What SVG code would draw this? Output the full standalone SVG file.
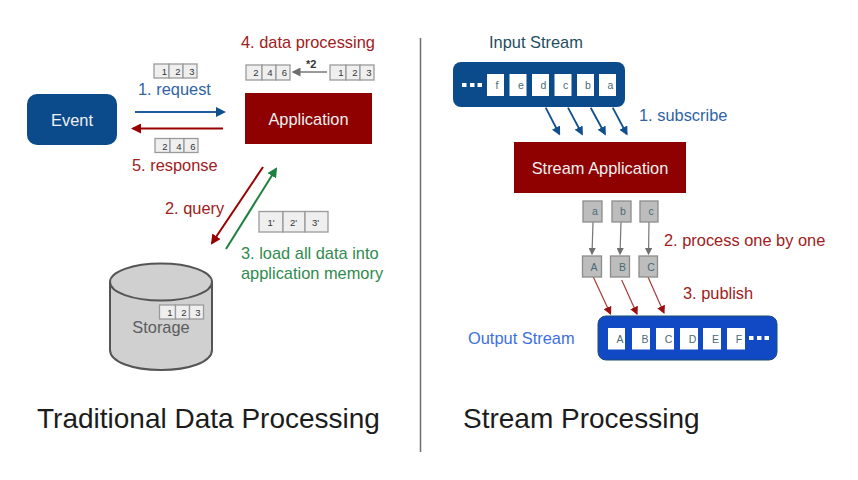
<svg xmlns="http://www.w3.org/2000/svg" width="858" height="480" viewBox="0 0 858 480">
<style>
text{font-family:"Liberation Sans",Arial,sans-serif}
.lb{font-size:16.4px}
.red{fill:#a02020}.blue{fill:#2f64a4}.green{fill:#2f8a4e}
.w{fill:#f0f0f0;font-size:16.4px;text-anchor:middle}
.t{font-size:28px;fill:#1c1c1c}
.c{fill:#efefef;stroke:#9a9a9a;stroke-width:1.3}
.d{font-size:9.5px;fill:#333;text-anchor:middle}
.s{fill:#fff}
.e{font-size:10.5px;fill:#4a6a78;text-anchor:middle}
.g{fill:#bdbdbd;stroke:#8c8c8c;stroke-width:1.3}
.ln{fill:none}
.dot{fill:#fff}
</style>
<defs>
<marker id="mb" markerWidth="5" markerHeight="5" refX="4" refY="2.5" orient="auto" markerUnits="strokeWidth"><path d="M0 0L5 2.500L0 5z" fill="#0f4f8f"/></marker>
<marker id="mr" markerWidth="5" markerHeight="5" refX="4" refY="2.5" orient="auto" markerUnits="strokeWidth"><path d="M0 0L5 2.500L0 5z" fill="#990000"/></marker>
<marker id="mg" markerWidth="5" markerHeight="5" refX="4" refY="2.5" orient="auto" markerUnits="strokeWidth"><path d="M0 0L5 2.500L0 5z" fill="#1f8040"/></marker>
<marker id="mk" markerWidth="6" markerHeight="6" refX="5" refY="3" orient="auto" markerUnits="strokeWidth"><path d="M0 0L6 3L0 6z" fill="#6f6f6f"/></marker>
<marker id="mh" markerWidth="7" markerHeight="7" refX="6" refY="3.5" orient="auto" markerUnits="strokeWidth"><path d="M0 0L7 3.500L0 7z" fill="#9a1010"/></marker>
</defs>
<rect width="858" height="480" fill="#fff"/>

<g id="connectors" class="ln">
<path d="M135 112H224" stroke="#1f5d9e" stroke-width="2" marker-end="url(#mb)"/>
<path d="M223 128.500H133" stroke="#990000" stroke-width="2" marker-end="url(#mr)"/>
<path d="M263 167L212 243" stroke="#990000" stroke-width="2" marker-end="url(#mr)"/>
<path d="M226 249L276 169" stroke="#1f8040" stroke-width="2" marker-end="url(#mg)"/>
<path d="M327 72H293" stroke="#777" stroke-width="1.500" marker-end="url(#mk)"/>
<g stroke="#0f4f8f" stroke-width="1.800" marker-end="url(#mb)">
<path d="M545.700 107.700L559.300 134"/><path d="M568 107.700L582 134"/><path d="M590.700 107.700L605 134"/><path d="M612.700 107.700L626.700 134"/>
</g>
<g stroke="#777" stroke-width="1.200" marker-end="url(#mk)">
<path d="M593 222L592 254"/><path d="M621 222L620 254"/><path d="M649 222L648.500 254"/>
</g>
<g stroke="#a83a3a" stroke-width="1.200" marker-end="url(#mh)">
<path d="M593.300 277L610.500 314"/><path d="M621.700 280L637 314"/><path d="M648 277L664 313"/>
</g>
</g>

<g id="event"><rect x="27" y="94" width="90" height="51" rx="10" fill="#0b4a8b"/><text class="w" x="72" y="126">Event</text></g>
<g id="application"><rect x="245" y="93" width="127" height="51" fill="#8f0000"/><text class="w" x="308.500" y="125">Application</text></g>

<g id="array-request">
<rect class="c" x="154" y="64" width="15" height="14"/><rect class="c" x="169" y="64" width="14" height="14"/><rect class="c" x="183" y="64" width="14" height="14"/>
<text class="d" x="164.500" y="75">1</text><text class="d" x="178" y="75">2</text><text class="d" x="192" y="75">3</text></g>
<g id="array-response">
<rect class="c" x="155" y="138.500" width="15" height="14"/><rect class="c" x="170" y="138.500" width="14" height="14"/><rect class="c" x="184" y="138.500" width="14" height="14"/>
<text class="d" x="165" y="149.500">2</text><text class="d" x="179" y="149.500">4</text><text class="d" x="193" y="149.500">6</text></g>
<g id="array-result">
<rect class="c" x="246" y="65" width="16" height="15"/><rect class="c" x="262" y="65" width="14" height="15"/><rect class="c" x="276" y="65" width="14" height="15"/>
<text class="d" x="256" y="76">2</text><text class="d" x="270" y="76">4</text><text class="d" x="284.500" y="76">6</text></g>
<g id="array-source">
<rect class="c" x="330" y="65" width="16" height="15"/><rect class="c" x="346" y="65" width="14" height="15"/><rect class="c" x="360" y="65" width="14" height="15"/>
<text class="d" x="341" y="76">1</text><text class="d" x="355" y="76">2</text><text class="d" x="369" y="76">3</text></g>
<text id="times-two" x="306" y="67.500" font-size="11" font-weight="bold" fill="#333">*2</text>

<g id="array-loaded">
<rect class="c" x="259" y="211.500" width="24" height="20.500"/><rect class="c" x="283" y="211.500" width="22" height="20.500"/><rect class="c" x="305" y="211.500" width="23" height="20.500"/>
<text class="d" x="271" y="225.500">1'</text><text class="d" x="293.500" y="225.500">2'</text><text class="d" x="315.500" y="225.500">3'</text></g>

<g id="storage">
<path d="M110 282V350C110 362 133 370 161 370S212 362 212 350V282" fill="#d0d0d0" stroke="#555" stroke-width="2"/>
<ellipse cx="161" cy="282" rx="51" ry="18.500" fill="#d0d0d0" stroke="#555" stroke-width="2"/>
<text x="161" y="333" font-size="16.400" fill="#5c5c5c" text-anchor="middle">Storage</text>
<rect class="c" x="159.500" y="305" width="16" height="14"/><rect class="c" x="175.500" y="305" width="14" height="14"/><rect class="c" x="189.500" y="305" width="14" height="14"/>
<text class="d" x="170" y="316">1</text><text class="d" x="184" y="316">2</text><text class="d" x="198" y="316">3</text></g>

<g id="input-stream">
<rect x="453" y="62" width="172" height="45" rx="8" fill="#0b4a8b"/>
<rect class="dot" x="462" y="83" width="4.500" height="4"/><rect class="dot" x="470" y="83" width="4.500" height="4"/><rect class="dot" x="477.500" y="83" width="4.500" height="4"/>
<rect class="s" x="487" y="74" width="17" height="22"/><rect class="s" x="509.500" y="74" width="17" height="22"/><rect class="s" x="532" y="74" width="17" height="22"/><rect class="s" x="554.500" y="74" width="17" height="22"/><rect class="s" x="577" y="74" width="17" height="22"/><rect class="s" x="599" y="74" width="17" height="22"/>
<text class="e" x="497" y="89">f</text><text class="e" x="521" y="89">e</text><text class="e" x="543.500" y="89">d</text><text class="e" x="565.500" y="89">c</text><text class="e" x="588" y="89">b</text><text class="e" x="610.500" y="89">a</text>
</g>
<text id="input-label" x="489" y="48" font-size="16.400" fill="#1f4e5e">Input Stream</text>

<g id="stream-application"><rect x="514" y="142" width="172" height="51" fill="#8f0000"/><text class="w" x="600" y="174">Stream Application</text></g>

<g id="item-a"><rect class="g" x="583" y="201" width="19" height="21"/><text class="e" x="595" y="215">a</text></g>
<g id="item-b"><rect class="g" x="612" y="201" width="19" height="21"/><text class="e" x="623" y="215">b</text></g>
<g id="item-c"><rect class="g" x="640" y="201" width="18" height="21"/><text class="e" x="651" y="215">c</text></g>
<g id="item-A"><rect class="g" x="582.500" y="256" width="19" height="21"/><text class="e" x="594" y="270.500">A</text></g>
<g id="item-B"><rect class="g" x="610.500" y="256" width="19" height="21"/><text class="e" x="622.500" y="270.500">B</text></g>
<g id="item-C"><rect class="g" x="639" y="256" width="18.500" height="21"/><text class="e" x="651" y="270.500">C</text></g>

<g id="output-stream">
<rect x="598" y="316" width="179" height="44" rx="8" fill="#1149c4" stroke="#1d4e6e" stroke-width="1"/>
<rect class="s" x="608" y="328" width="17" height="21.500"/><rect class="s" x="632" y="328" width="18" height="21.500"/><rect class="s" x="656" y="328" width="18" height="21.500"/><rect class="s" x="680" y="328" width="18" height="21.500"/><rect class="s" x="703" y="328" width="18" height="21.500"/><rect class="s" x="727" y="328" width="18" height="21.500"/>
<text class="e" x="620" y="343">A</text><text class="e" x="645" y="343">B</text><text class="e" x="668.500" y="343">C</text><text class="e" x="692.500" y="343">D</text><text class="e" x="715.500" y="343">E</text><text class="e" x="739" y="343">F</text>
<rect class="dot" x="749" y="336" width="4.500" height="4"/><rect class="dot" x="757" y="336" width="4.500" height="4"/><rect class="dot" x="764.500" y="336" width="4.500" height="4"/>
</g>
<text id="output-label" x="468" y="344" font-size="16.400" fill="#3d6fe0">Output Stream</text>

<g id="labels">
<text class="lb red" x="241" y="48">4. data processing</text>
<text class="lb blue" x="138" y="95">1. request</text>
<text class="lb red" x="132" y="171">5. response</text>
<text class="lb red" x="165" y="214">2. query</text>
<text class="lb green" x="241" y="259">3. load all data into</text>
<text class="lb green" x="241" y="279">application memory</text>
<text class="lb blue" x="639" y="121">1. subscribe</text>
<text class="lb red" x="664" y="246">2. process one by one</text>
<text class="lb red" x="683" y="299">3. publish</text>
</g>

<path id="divider" d="M420.500 38V452" stroke="#6e6e6e" stroke-width="1.500" fill="none"/>
<text class="t" x="37" y="428">Traditional Data Processing</text>
<text class="t" x="463" y="428">Stream Processing</text>
</svg>
